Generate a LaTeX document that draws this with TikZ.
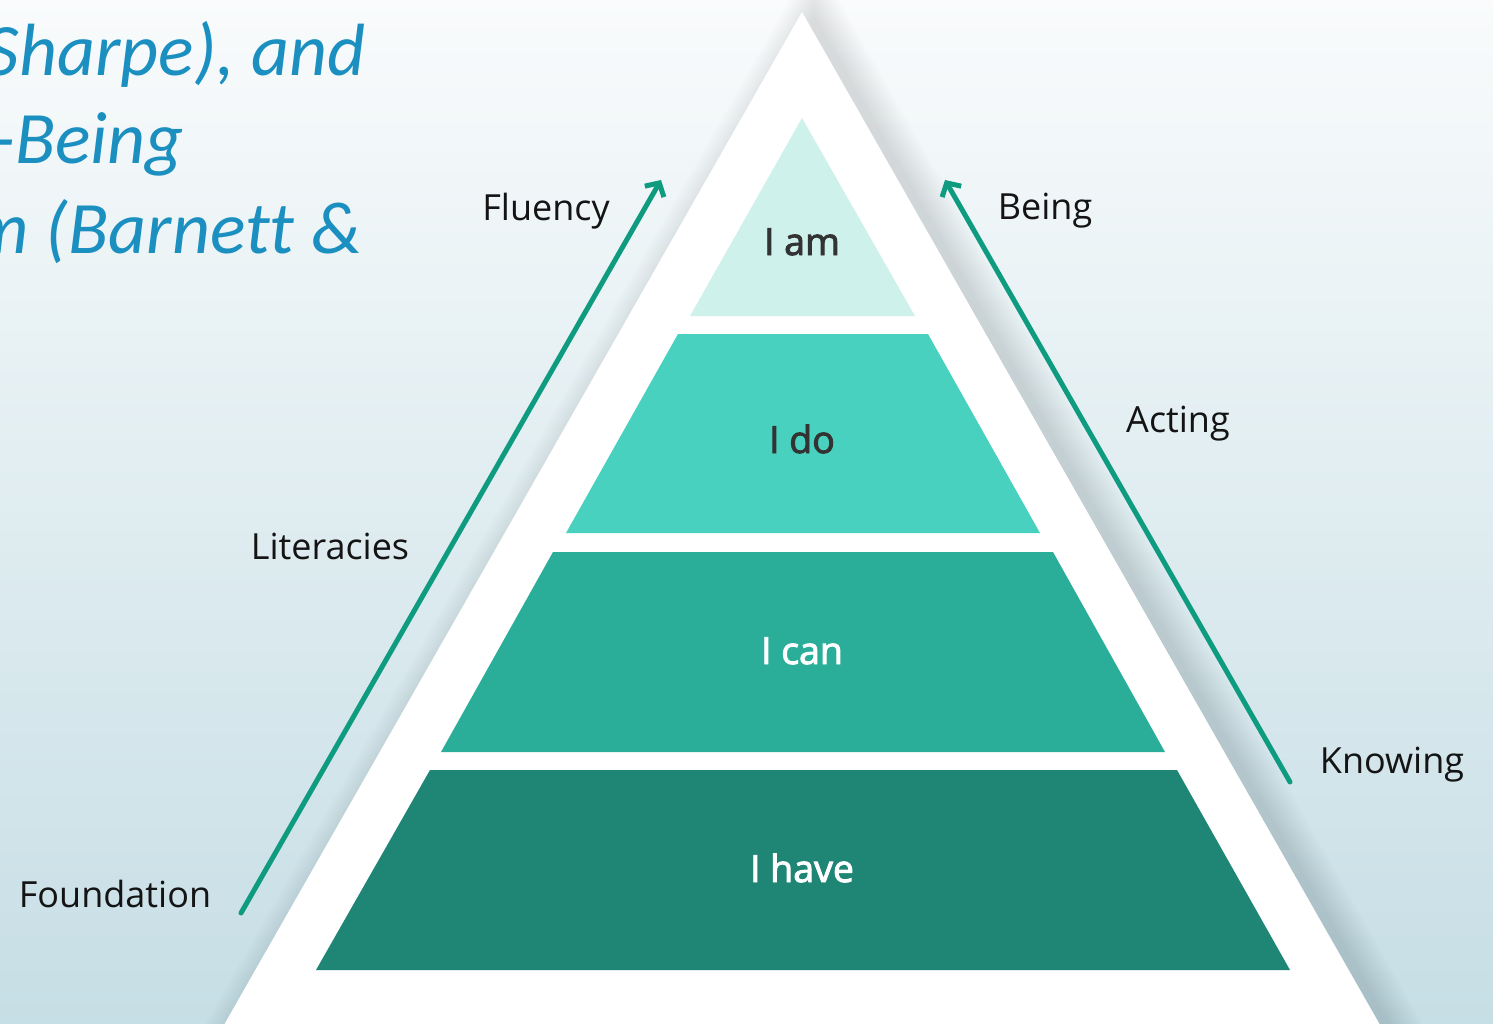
\documentclass[tikz,border=0pt]{standalone}
\usepackage{fontspec}
\setmainfont{Open Sans}
\newfontfamily\titlefont[Ligatures={NoCommon,NoContextual}]{Carlito}
\newfontfamily\layerfont[FakeBold=2.5]{Open Sans}
\usetikzlibrary{arrows.meta}
\definecolor{bgtop}{HTML}{F9FBFC}
\definecolor{bgbot}{HTML}{C6DEE5}
\definecolor{titleblue}{HTML}{1A8FC0}
\definecolor{arrowteal}{HTML}{0F9B7F}
\definecolor{lay1}{HTML}{CFF1EC}
\definecolor{lay2}{HTML}{47D1BE}
\definecolor{lay3}{HTML}{2BAE99}
\definecolor{lay4}{HTML}{1F8575}
\definecolor{darktext}{HTML}{333333}
\definecolor{shadowcol}{HTML}{1E3A44}
\tikzset{
  sidelabel/.style={anchor=base, inner sep=0pt, font=\fontsize{36}{40}\selectfont, text=black!92},
  layerlabel/.style={anchor=base, inner sep=0pt, font=\layerfont\fontsize{37.5}{42}\selectfont},
  titleline/.style={anchor=base east, inner sep=0pt, font=\titlefont\itshape\fontsize{74}{80}\selectfont, text=titleblue},
  growarrow/.style={draw=arrowteal, line width=5pt, line cap=round, -{Straight Barb[length=10pt,width=22pt,line width=5pt]}}
}
\begin{document}
\begin{tikzpicture}[x=1pt,y=-1pt]
\useasboundingbox (0,0) rectangle (1493,1023);
\clip (0,0) rectangle (1493,1023);
\shade[top color=bgtop, bottom color=bgbot] (0,0) rectangle (1493,1023);
% soft shadow of the white triangle (offset right, blurred by stacking)
\foreach \d in {0,...,30} {
  \pgfmathsetmacro{\ax}{814}
  \pgfmathsetmacro{\ay}{16-2.02*\d}
  \pgfmathsetmacro{\lx}{\ax-0.5707*(1130-\ay)}
  \pgfmathsetmacro{\rx}{\ax+0.5707*(1130-\ay)}
  \fill[shadowcol, opacity=0.0055] (\ax,\ay) -- (\rx,1130) -- (\lx,1130) -- cycle;
}
% white triangle
\fill[white] (802,12) -- (1440,1130) -- (164,1130) -- cycle;
% layers
\fill[lay1] (802,118) -- (915,316) -- (690,316) -- cycle;
\fill[lay2] (678,334) -- (928,334) -- (1040,533) -- (566,533) -- cycle;
\fill[lay3] (553,552) -- (1053,552) -- (1165,752) -- (441,752) -- cycle;
\fill[lay4] (430,770) -- (1177,770) -- (1290,970) -- (316,970) -- cycle;
% layer labels
\node[layerlabel, text=darktext] (iam) at (802,255) {I am};
\node[layerlabel, text=darktext] (ido) at (802,453) {I do};
\node[layerlabel, text=white] (ican) at (802,664) {I can};
\node[layerlabel, text=white] (ihave) at (802,882) {I have};
% arrows
\coordinate (lstart) at (241,913);
\coordinate (lend) at (661,180);
\coordinate (rstart) at (1290,782);
\coordinate (rend) at (945,180);
\draw[growarrow] (lstart) -- (lend);
\draw[growarrow] (rstart) -- (rend);
% side labels
\node[sidelabel] (fluency) at (546,220) {Fluency};
\node[sidelabel] (literacies) at (330,559) {Literacies};
\node[sidelabel] (foundation) at (115,907) {Foundation};
\node[sidelabel] (being) at (1045,219) {Being};
\node[sidelabel] (acting) at (1178,432) {Acting};
\node[sidelabel] (knowing) at (1392,773) {Knowing};
% title fragment
\node[titleline] (t1) at (366,75) {Sharpe), and};
\node[titleline] (t2) at (184,163) {-Being};
\node[titleline] (t3) at (362,253) {m (Barnet\kern0pt t \&};
\end{tikzpicture}
\end{document}
